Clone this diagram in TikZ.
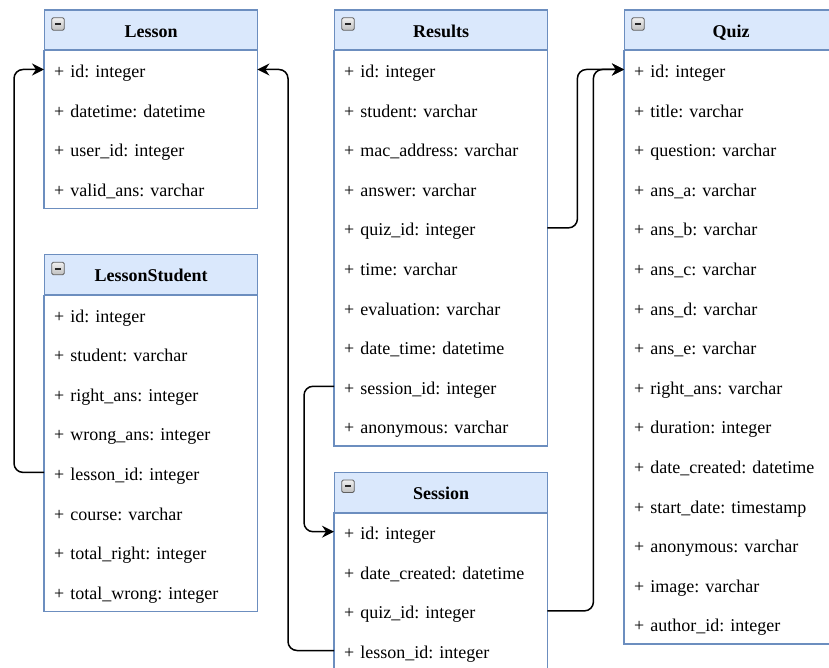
\documentclass[tikz,border=0pt]{standalone}
\usepackage{fontspec}
\setmainfont{Liberation Serif}
\usetikzlibrary{arrows.meta}
\definecolor{hdrfill}{HTML}{DAE8FC}
\definecolor{hdrline}{HTML}{6C8EBF}
\frenchspacing

\tikzset{
  classhdr/.style={draw=hdrline, fill=hdrfill, line width=1.3pt,
    minimum width=213pt, minimum height=40pt, inner sep=0pt,
    text height=17pt, text depth=3pt,
    font=\fontsize{18}{20}\selectfont\bfseries, anchor=north west},
  field/.style={inner xsep=10pt, inner ysep=0pt, text width=193pt,
    minimum height=39.6pt, align=left, text height=18pt, text depth=2pt,
    font=\fontsize{18}{20}\selectfont, anchor=north west},
  classbody/.style={draw=hdrline, line width=1.3pt},
  toggle/.style={draw=gray!75!black, rounded corners=1.5pt,
    top color=gray!12, bottom color=gray!50, minimum size=12.5pt,
    inner sep=0pt, line width=0.8pt,
    path picture={\draw[line width=2pt, gray!30!black]
      ([xshift=3pt]path picture bounding box.west) --
      ([xshift=-3pt]path picture bounding box.east);}},
  link/.style={line width=1.5pt, rounded corners=9pt,
    -{Stealth[length=12pt,width=12pt,inset=4pt]}},
}

% #1 name, #2 title, #3 x, #4 y, #5 number of fields, #6 fields
\newcommand\umlclass[6]{%
  \node[classhdr] (#1) at (#3,#4) {#2};
  \node[toggle] (#1-toggle) at ({#3+14},{#4+14.5}) {};
  \foreach \fld [count=\i] in {#6} {
    \node[field] (#1-\i) at ({#3},{#4+40+39.6*(\i-1)}) {\fld};
  }
  \draw[classbody] (#1.south west) rectangle (#1-#5.south east);
}

\begin{document}
\begin{tikzpicture}[x=1pt, y=-1pt]
  \clip (0,0) rectangle (829,668);

  \umlclass{lesson}{Lesson}{44}{9.5}{4}{%
    + id: integer, + datetime: datetime, + user\_id: integer,
    + valid\_ans: varchar}

  \umlclass{ls}{LessonStudent}{44}{254}{8}{%
    + id: integer, + student: varchar, + right\_ans: integer,
    + wrong\_ans: integer, + lesson\_id: integer, + course: varchar,
    + total\_right: integer, + total\_wrong: integer}

  \umlclass{results}{Results}{334}{9.5}{10}{%
    + id: integer, + student: varchar, + mac\_address: varchar,
    + answer: varchar, + quiz\_id: integer, + time: varchar,
    + evaluation: varchar, + date\_time: datetime,
    + session\_id: integer, + anonymous: varchar}

  \umlclass{session}{Session}{334}{471.7}{4}{%
    + id: integer, + date\_created: datetime, + quiz\_id: integer,
    + lesson\_id: integer}

  \umlclass{quiz}{Quiz}{624}{9.5}{15}{%
    + id: integer, + title: varchar, + question: varchar,
    + ans\_a: varchar, + ans\_b: varchar, + ans\_c: varchar,
    + ans\_d: varchar, + ans\_e: varchar, + right\_ans: varchar,
    + duration: integer, + date\_created: datetime,
    + start\_date: timestamp, + anonymous: varchar,
    + image: varchar, + author\_id: integer}

  % foreign keys
  \draw[link] (ls-5.west) -- ++(-30,0) |- (lesson-1.west);
  \draw[link] (session-4.west) -- ++(-46,0) |- (lesson-1.east);
  \draw[link] (results-9.west) -- ++(-30,0) |- (session-1.west);
  \draw[link] (results-5.east) -- ++(30,0) |- (quiz-1.west);
  \draw[link] (session-3.east) -- ++(46,0) |- (quiz-1.west);
\end{tikzpicture}
\end{document}
